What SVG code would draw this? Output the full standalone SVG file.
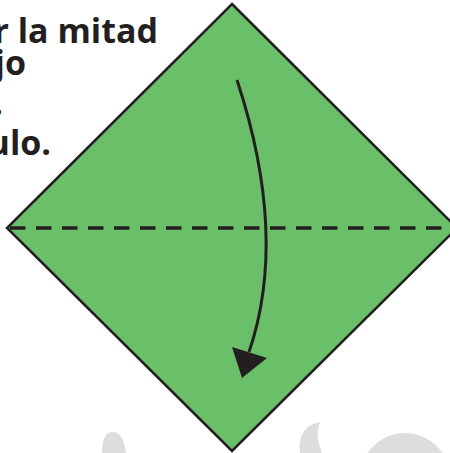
<svg xmlns="http://www.w3.org/2000/svg" width="450" height="453" viewBox="0 0 450 453">
  <style>
    .t { font-family: "Open Sans", "Liberation Sans", sans-serif; font-weight: bold; font-size: 34px; fill: #231f20; }
    .wm { fill: #dedcdc; }
  </style>
  <rect width="450" height="453" fill="#ffffff"/>
  <g id="watermark">
    <path class="wm" d="M102,453 C102,440 105,432 113,432 C121,432 124,440 126,453 Z"/>
    <path class="wm" d="M320,422 C305,425 298,436 300,453 L322,453 C318,442 316,432 320,422 Z"/>
    <path class="wm" fill-rule="evenodd" d="M360,478 A45,45 0 1 1 450,478 A45,45 0 1 1 360,478 Z M380,478 A25,25 0 1 0 430,478 A25,25 0 1 0 380,478 Z"/>
  </g>
  <g id="caption">
    <text class="t" x="158" y="43" text-anchor="end">or la mitad</text>
    <text class="t" x="26" y="75" text-anchor="end">jo</text>
    <text class="t" x="3" y="115" text-anchor="end">.</text>
    <text class="t" x="51" y="155" text-anchor="end">ulo.</text>
  </g>
  <g id="paper">
    <polygon points="232,4 457,228 232,451 7,228" fill="#6abf69" stroke="#231f20" stroke-width="2.5" stroke-linejoin="miter"/>
  </g>
  <g id="connectors">
    <line x1="8" y1="228" x2="450" y2="228" stroke="#231f20" stroke-width="3.5" stroke-dasharray="15.5 10.5" stroke-dashoffset="-2"/>
    <path d="M237,80 Q288.5,236.5 249,352" fill="none" stroke="#231f20" stroke-width="3"/>
    <polygon points="242,378 232,347 267,358" fill="#231f20"/>
  </g>
</svg>
